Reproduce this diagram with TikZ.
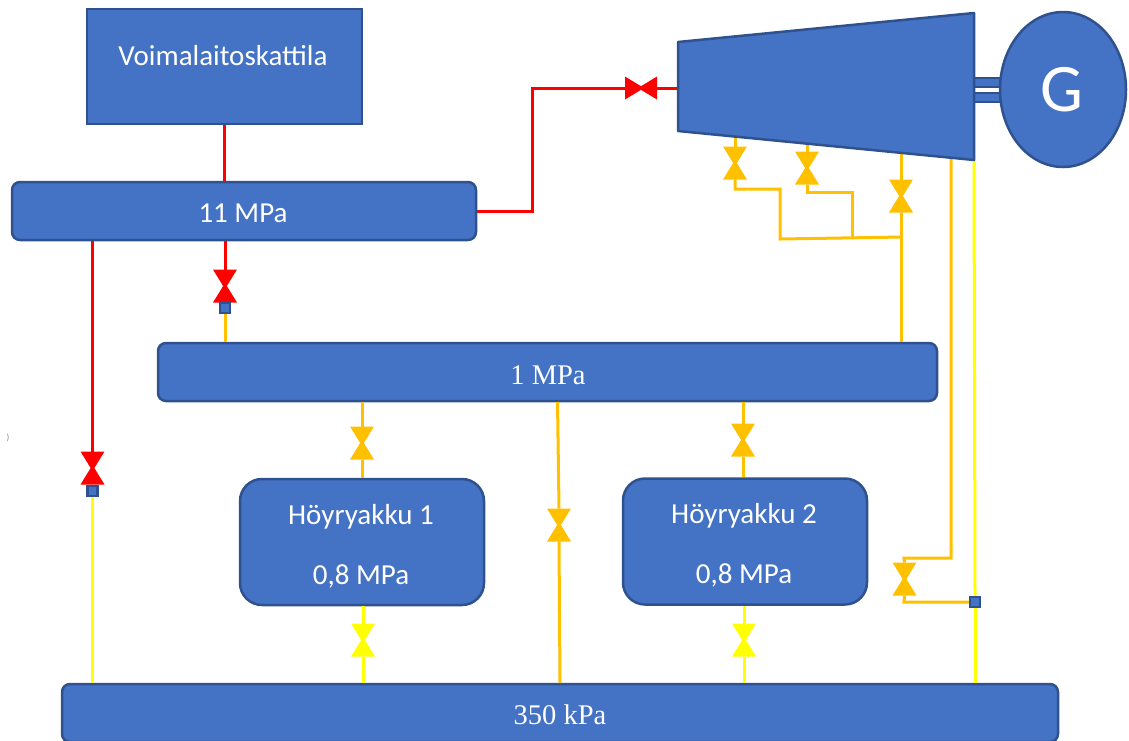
\documentclass[tikz,border=0pt]{standalone}
\usepackage{fontspec}
\usetikzlibrary{shapes.geometric}
\setmainfont{Carlito}
\newfontfamily\busfont{Liberation Serif}
\definecolor{fillblue}{HTML}{4472C4}
\definecolor{edgeblue}{HTML}{2F528F}
\definecolor{orangepipe}{HTML}{FFC000}
\definecolor{yellowpipe}{HTML}{FFFF00}
\definecolor{redpipe}{HTML}{FF0000}

\begin{document}
\begin{tikzpicture}[x=1pt, y=-1pt]
			\tikzset {
				block/.style={draw=edgeblue, fill=fillblue, line width=2.5pt, inner sep=0pt, outer sep=1.25pt},
				bus/.style={block, rounded corners=8pt},
				akku/.style={block, rounded corners=22pt, minimum width=244, minimum height=126},
				caption/.style={text=white, inner sep=0pt, font=\fontsize{29}{33}\selectfont},
				captionlow/.style={text=white, inner sep=0pt, font=\busfont\fontsize{28.5}{32}\selectfont},
				tap/.style={draw=edgeblue, fill=fillblue, line width=2.5pt, minimum size=10, inner sep=0pt, outer sep=1.25pt},
				valve/.style={minimum width=24, minimum height=33, inner sep=0pt, outer sep=0pt, path picture={
					\fill[#1] (path picture bounding box.north west) -- (path picture bounding box.north east)
						-- ([yshift=-3pt]path picture bounding box.center) -- cycle;
					\fill[#1] (path picture bounding box.south west) -- (path picture bounding box.south east)
						-- ([yshift=3pt]path picture bounding box.center) -- cycle;}},
				valveh/.style={minimum width=32, minimum height=23, inner sep=0pt, outer sep=0pt, path picture={
					\fill[#1] (path picture bounding box.north west) -- (path picture bounding box.south west)
						-- ([xshift=3pt]path picture bounding box.center) -- cycle;
					\fill[#1] (path picture bounding box.north east) -- (path picture bounding box.south east)
						-- ([xshift=-3pt]path picture bounding box.center) -- cycle;}},
				pipe/.style={line width=3pt, draw=#1}
			}

			\useasboundingbox (0,0) rectangle (1129,740);

			\coordinate (turbNW) at (678,42);
			\coordinate (turbNE) at (974,13);
			\coordinate (turbSE) at (974,160);
			\coordinate (turbSW) at (678,131);
			\coordinate (turbIn) at (678,88);
			\coordinate (turbA) at (735,137);
			\coordinate (turbB) at (807,144);
			\coordinate (turbC) at (901,153);
			\coordinate (turbD) at (951,158);
			\coordinate (bendIn) at (532,88);
			\coordinate (bendA1) at (735,189);
			\coordinate (bendA2) at (780,189);
			\coordinate (bendA3) at (780,239);
			\coordinate (bendB1) at (807,192);
			\coordinate (bendB2) at (852,192);
			\coordinate (bendB3) at (852,238);
			\coordinate (bendC) at (903,237);
			\coordinate (bendD1) at (951,558);
			\coordinate (bendD2) at (904,558);
			\coordinate (bendD3) at (904,602);

			\node[block, minimum width=275, minimum height=115] (boiler) at (224.5,66.5) {};
			\node[caption] (boilerText) at (223,56) {Voimalaitoskattila};
			\node[bus, minimum width=464, minimum height=58] (hp) at (244,211) {};
			\node[caption] (hpText) at (243,213) {11 MPa};
			\node[bus, minimum width=779, minimum height=58] (mp) at (547.5,372) {};
			\node[captionlow] (mpText) at (548,375) {1 MPa};
			\node[bus, minimum width=996, minimum height=58] (lp) at (560,713) {};
			\node[captionlow] (lpText) at (560,715) {350 kPa};
			\node[akku] (akku1) at (362,542) {};
			\node[caption] (akku1Top) at (361,517) {H\"oyryakku 1};
			\node[caption] (akku1Low) at (361,576) {0,8 MPa};
			\node[akku] (akku2) at (745,541.5) {};
			\node[caption] (akku2Top) at (744,516) {H\"oyryakku 2};
			\node[caption] (akku2Low) at (744,575) {0,8 MPa};
			\node[text=black!45, font=\fontsize{9}{10}\selectfont] (mark) at (8,438) {)};

			\node[valveh=redpipe] (vIn) at (641,88) {};
			\node[valve=redpipe] (vHp) at (225,286) {};
			\node[tap] (tapHp) at (225,308) {};
			\node[valve=redpipe] (vBy) at (92.5,468) {};
			\node[tap] (tapBy) at (92.5,491) {};
			\node[valve=orangepipe] (vA1) at (362,443) {};
			\node[valve=orangepipe] (vA2) at (743,440) {};
			\node[valve=orangepipe] (vMid) at (559,525) {};
			\node[valve=yellowpipe] (vB1) at (363,640) {};
			\node[valve=yellowpipe] (vB2) at (744,640) {};
			\node[valve=orangepipe] (vT1) at (735,163) {};
			\node[valve=orangepipe] (vT2) at (807,168) {};
			\node[valve=orangepipe] (vT3) at (901,196) {};
			\node[valve=orangepipe] (vT4) at (904.5,579) {};
			\node[tap] (tapT) at (975,602) {};

			\draw[pipe=redpipe] (boiler.south) -- (boiler.south |- hp.north);
			\draw[pipe=redpipe] (hp.east) -- (hp.east -| bendIn) -- (bendIn) -- (vIn.west);
			\draw[pipe=redpipe] (vIn.east) -- (turbIn);
			\draw[pipe=redpipe] (vHp |- hp.south) -- (vHp.north);
			\draw[pipe=redpipe] (vBy |- hp.south) -- (vBy.north);
			\draw[pipe=orangepipe] (tapHp.south) -- (tapHp |- mp.north);
			\draw[pipe=yellowpipe] (tapBy.south) -- (tapBy |- lp.north);

			\draw[pipe=orangepipe] (vA1 |- mp.south) -- (vA1.north);
			\draw[pipe=orangepipe] (vA1.south) -- (vA1 |- akku1.north);
			\draw[pipe=orangepipe] (vA2 |- mp.south) -- (vA2.north);
			\draw[pipe=orangepipe] (vA2.south) -- (vA2 |- akku2.north);
			\draw[pipe=orangepipe] (557.5,402) -- (vMid.north);
			\draw[pipe=orangepipe] (vMid.south) -- (560,683);
			\draw[pipe=yellowpipe] (vB1 |- akku1.south) -- (vB1.north);
			\draw[pipe=yellowpipe] (vB1.south) -- (vB1 |- lp.north);
			\draw[pipe=yellowpipe] (vB2 |- akku2.south) -- (vB2.north);
			\draw[pipe=yellowpipe] (vB2.south) -- (vB2 |- lp.north);

			\draw[pipe=orangepipe] (turbA) -- (vT1.north);
			\draw[pipe=orangepipe] (vT1.south) -- (bendA1) -- (bendA2) -- (bendA3) -- (bendC);
			\draw[pipe=orangepipe] (turbB) -- (vT2.north);
			\draw[pipe=orangepipe] (vT2.south) -- (bendB1) -- (bendB2) -- (bendB3);
			\draw[pipe=orangepipe] (turbC) -- (vT3.north);
			\draw[pipe=orangepipe] (vT3.south) -- (vT3 |- mp.north);
			\draw[pipe=orangepipe] (turbD) -- (bendD1) -- (bendD2) -- (vT4.north);
			\draw[pipe=orangepipe] (vT4.south) -- (bendD3) -- (tapT.west);
			\draw[pipe=yellowpipe] (turbSE) -- (tapT.north);
			\draw[pipe=yellowpipe] (tapT.south) -- (tapT |- lp.north);

			\draw[block] (974,78) rectangle (1002,87);
			\draw[block] (974,93) rectangle (1002,102);
			\draw[block, line join=round] (turbNW) -- (turbNE) -- (turbSE) -- (turbSW) -- cycle;
			\node[block, ellipse, minimum width=126, minimum height=155] (gen) at (1063,89.5) {};
			\node[caption, font=\fontsize{68}{72}\selectfont] (genText) at (1061.5,90) {G};
		\end{tikzpicture}
\end{document}
